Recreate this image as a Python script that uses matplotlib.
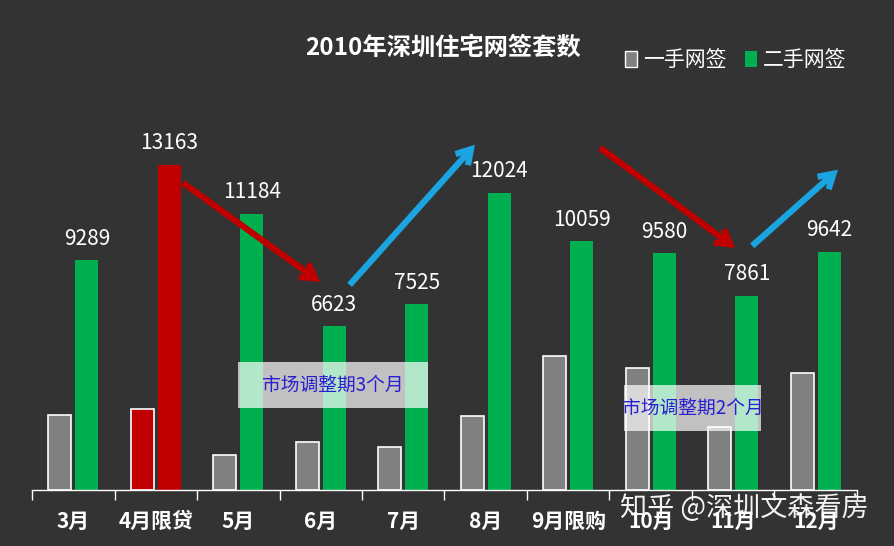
import matplotlib
matplotlib.use('Agg')
import matplotlib.pyplot as plt
from matplotlib.patches import Rectangle
import numpy as np

plt.rcParams['font.family'] = ['Noto Sans CJK SC', 'DejaVu Sans']

months = ['3月', '4月限贷', '5月', '6月', '7月', '8月', '9月限购', '10月', '11月', '12月']
first_hand = [3040, 3280, 1420, 1940, 1740, 3000, 5430, 4940, 2550, 4740]
second_hand = [9289, 13163, 11184, 6623, 7525, 12024, 10059, 9580, 7861, 9642]
highlight = 1  # 4月限贷 in red

bg = '#333333'
grey = '#808080'
green = '#00b050'
red = '#c00000'
blue = '#1ba5e0'

fig = plt.figure(figsize=(8.94, 5.46), dpi=100, facecolor=bg)
ax = fig.add_axes([0.0358, 0.1026, 0.9228, 0.7875])
ax.set_facecolor(bg)

x = np.arange(len(months))
w = 0.28
off = 0.165
c1 = [red if i == highlight else grey for i in x]
c2 = [red if i == highlight else green for i in x]
ax.bar(x - off, first_hand, w, color=c1, edgecolor='white', linewidth=1.2, zorder=2)
ax.bar(x + off, second_hand, w, color=c2, linewidth=0, zorder=2)

for xi, v in zip(x, second_hand):
    ax.text(xi + off, v + 420, str(v), ha='center', va='bottom', color='white',
            fontsize=15, zorder=5)

ax.set_xlim(-0.5, len(months) - 0.5)
ax.set_ylim(0, 17400)
for s in ['top', 'right', 'left']:
    ax.spines[s].set_visible(False)
ax.spines['bottom'].set_color('white')
ax.spines['bottom'].set_linewidth(1)
ax.set_yticks([])
ax.set_xticks(x)
ax.set_xticklabels(months, color='white', fontsize=15, fontweight='bold')
ax.set_xticks(np.arange(-0.5, len(months)), minor=True)
ax.tick_params(axis='x', which='major', length=0, pad=15)
ax.tick_params(axis='x', which='minor', length=7, color='white', width=1)

# trend arrows
arrows = [
    ((1.33, 12430), (2.99, 8420), red),
    ((3.35, 8300), (4.87, 13970), blue),
    ((6.385, 13850), (8.02, 9800), red),
    ((8.23, 9880), (9.27, 12960), blue),
]
for tail, tip, col in arrows:
    ax.annotate('', xy=tip, xytext=tail,
                arrowprops=dict(arrowstyle='->,head_length=1.0,head_width=0.6',
                                color=col, lw=4.5, shrinkA=0, shrinkB=0,
                                joinstyle='miter', capstyle='butt'),
                zorder=4)

# annotation boxes
boxes = [
    (2.0, 3320, 2.3, 1860, '市场调整期3个月'),
    (6.676, 2390, 1.66, 1860, '市场调整期2个月'),
]
for bx, by, bw, bh, txt in boxes:
    ax.add_patch(Rectangle((bx, by), bw, bh, facecolor='white', alpha=0.7,
                           linewidth=0, zorder=3))
    ax.text(bx + bw / 2, by + bh / 2, txt, ha='center', va='center',
            color='#2a1fd0', fontsize=13.5, zorder=4)

fig.text(0.495, 0.912, '2010年深圳住宅网签套数', ha='center', va='center',
         color='white', fontsize=17.5, fontweight='bold')

leg = ax.legend(
    handles=[Rectangle((0, 0), 1, 1, facecolor=grey, edgecolor='white', lw=1),
             Rectangle((0, 0), 1, 1, facecolor=green, lw=0)],
    labels=['一手网签', '二手网签'], loc='center right', bbox_to_anchor=(1.01, 1.0),
    ncol=2, frameon=False, fontsize=15, labelcolor='white',
    handlelength=0.55, handleheight=0.8, handletextpad=0.3, columnspacing=0.9)

fig.text(0.972, 0.07, '知乎 @深圳文森看房', ha='right', va='center',
         color='white', fontsize=19.5, alpha=0.95)

fig.savefig('out.png', dpi=100, facecolor=bg)
